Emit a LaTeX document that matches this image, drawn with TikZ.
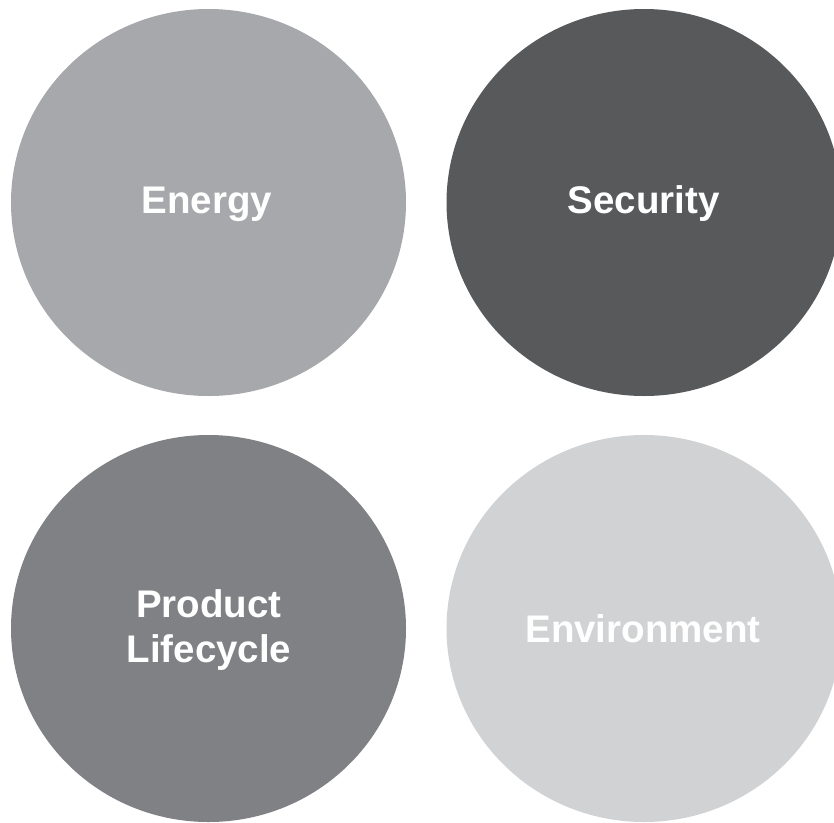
\documentclass[tikz,border=0pt]{standalone}
\usepackage{fontspec}
\setmainfont{Liberation Sans}
\usetikzlibrary{shapes.geometric}
\definecolor{grayA}{HTML}{A7A8AB}
\definecolor{grayB}{HTML}{58595B}
\definecolor{grayC}{HTML}{808184}
\definecolor{grayD}{HTML}{D1D2D4}
\begin{document}
\begin{tikzpicture}[x=1pt,y=-1pt,
  disc/.style={ellipse,draw=none,inner sep=0pt,minimum width=395pt,minimum height=387pt},
  lbl/.style={anchor=base,inner sep=0pt,text=white,font=\fontsize{38.5pt}{44pt}\selectfont\bfseries}]
  \useasboundingbox (0,0) rectangle (834,822);
  \clip (0,0) rectangle (834,822);
  % four discs
  \node[disc,fill=grayA] (energy) at (208.5,202.5) {};
  \node[disc,fill=grayB] (security) at (644,202.5) {};
  \node[disc,fill=grayC] (lifecycle) at (208.5,628.5) {};
  \node[disc,fill=grayD] (environment) at (644,628.5) {};
  % labels
  \node[lbl] (tEnergy) at (207,213.3) {Energy};
  \node[lbl] (tSecurity) at (643.5,213.3) {Security};
  \node[lbl] (tProduct) at (209,617.7) {Product};
  \node[lbl] (tLifecycle) at (209,662) {Lifecycle};
  \node[lbl] (tEnvironment) at (643,642.7) {Environment};
\end{tikzpicture}
\end{document}
